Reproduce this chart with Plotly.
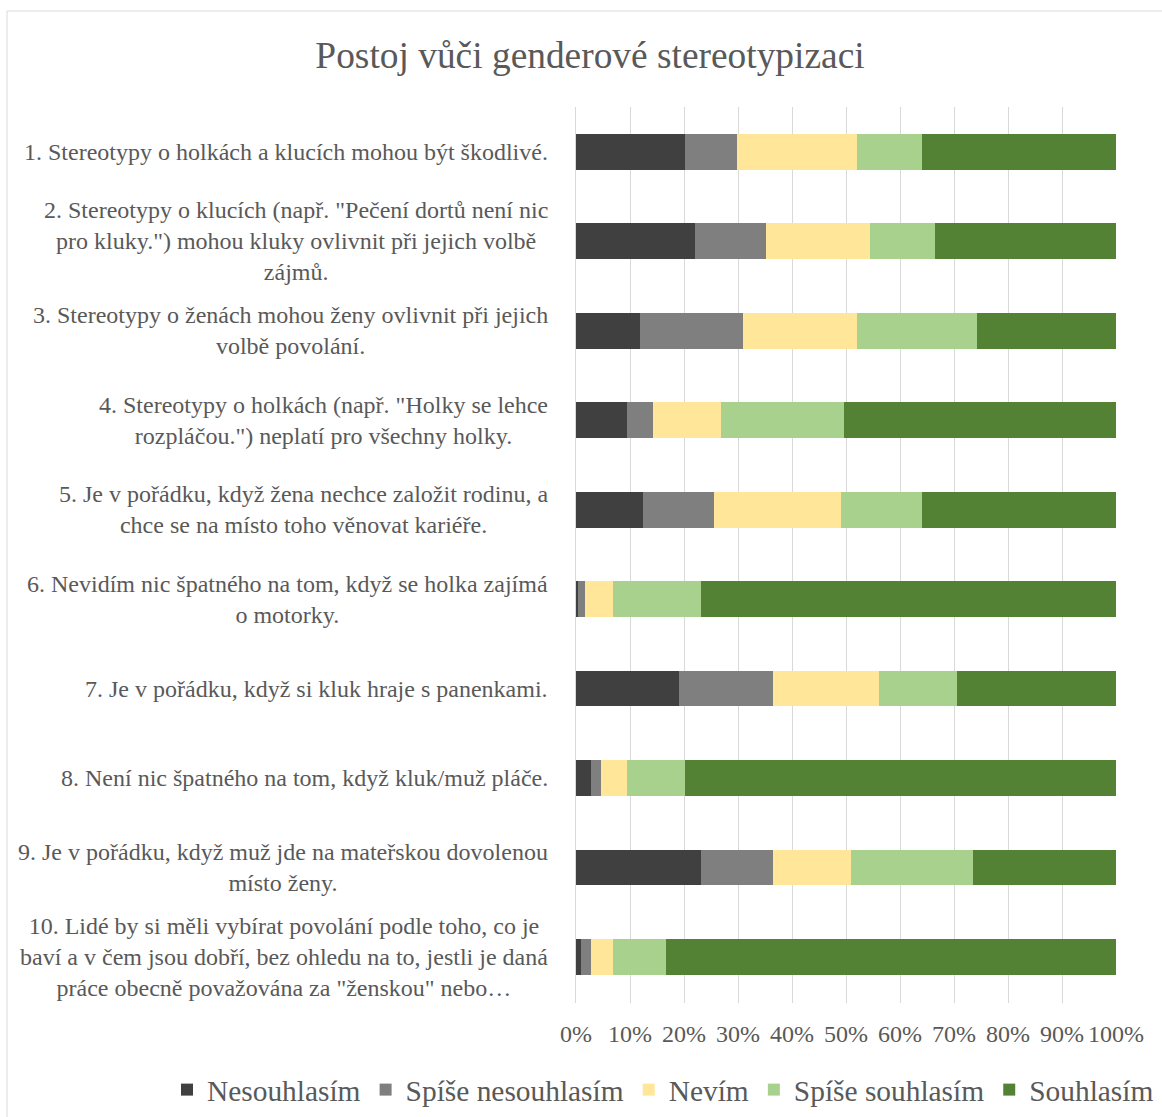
import plotly.graph_objects as go

categories = [
    "1. Stereotypy o holkách a klucích mohou být škodlivé.",
    "2. Stereotypy o klucích (např. \"Pečení dortů není nic<br>pro kluky.\") mohou kluky ovlivnit při jejich volbě<br>zájmů.",
    "3. Stereotypy o ženách mohou ženy ovlivnit při jejich<br>volbě povolání.",
    "4. Stereotypy o holkách (např. \"Holky se lehce<br>rozpláčou.\") neplatí pro všechny holky.",
    "5. Je v pořádku, když žena nechce založit rodinu, a<br>chce se na místo toho věnovat kariéře.",
    "6. Nevidím nic špatného na tom, když se holka zajímá<br>o motorky.",
    "7. Je v pořádku, když si kluk hraje s panenkami.",
    "8. Není nic špatného na tom, když kluk/muž pláče.",
    "9. Je v pořádku, když muž jde na mateřskou dovolenou<br>místo ženy.",
    "10. Lidé by si měli vybírat povolání podle toho, co je<br>baví a v čem jsou dobří, bez ohledu na to, jestli je daná<br>práce obecně považována za \"ženskou\" nebo…",
]

nesouhlasim = [20.1, 22.0, 11.8, 9.4, 12.4, 0.4, 19.0, 2.8, 23.1, 1.0]
spise_nesouhlasim = [9.7, 13.2, 19.2, 4.8, 13.2, 1.2, 17.4, 1.8, 13.3, 1.8]
nevim = [22.2, 19.2, 21.0, 12.6, 23.5, 5.3, 19.8, 4.8, 14.5, 4.1]
spise_souhlasim = [12.0, 12.0, 22.2, 22.8, 14.9, 16.3, 14.4, 10.8, 22.7, 9.7]
souhlasim = [36.0, 33.6, 25.8, 50.4, 36.0, 76.8, 29.4, 79.8, 26.4, 83.4]

series_names = ["Nesouhlasím", "Spíše nesouhlasím", "Nevím", "Spíše souhlasím", "Souhlasím"]
series_values = [nesouhlasim, spise_nesouhlasim, nevim, spise_souhlasim, souhlasim]
colors = ["#404040", "#7f7f7f", "#ffe699", "#a9d18e", "#548235"]

tick_vals = [0, 10, 20, 30, 40, 50, 60, 70, 80, 90, 100]
tick_text = ["0%", "10%", "20%", "30%", "40%", "50%", "60%", "70%", "80%", "90%", "100%"]

FONT = "Liberation Serif, Times New Roman, serif"
TXT = "#595959"

W, H = 1162, 1117
L, R, T, B = 576, 46, 107, 114
PW = W - L - R
PH = H - T - B

fig = go.Figure()
for name, vals, col in zip(series_names, series_values, colors):
    fig.add_trace(go.Bar(
        y=categories, x=vals, name=name, orientation="h",
        marker=dict(color=col, line=dict(width=0)),
        width=0.4,
    ))

annotations = []
for cat in categories:
    annotations.append(dict(
        x=0, xref="paper", y=cat, yref="y", text=cat,
        xanchor="right", yanchor="middle", align="center", xshift=-26,
        showarrow=False, font=dict(family=FONT, size=24, color=TXT),
    ))

fig.update_layout(
    width=W, height=H,
    margin=dict(l=L, r=R, t=T, b=B, autoexpand=False),
    paper_bgcolor="white", plot_bgcolor="white",
    barmode="stack",
    font=dict(family=FONT, color=TXT, size=24),
    title=dict(text="Postoj vůči genderové stereotypizaci", x=590 / W, xref="container",
               y=1 - 55 / H, yref="container", xanchor="center", yanchor="middle",
               font=dict(family=FONT, size=37.4, color=TXT)),
    xaxis=dict(range=[0, 100], tickvals=tick_vals, ticktext=tick_text,
               showgrid=True, gridcolor="#d9d9d9", gridwidth=1, zeroline=False,
               showline=False, ticks="", tickfont=dict(family=FONT, size=24, color=TXT),
               ticklabelstandoff=14, fixedrange=True, automargin=False),
    yaxis=dict(autorange="reversed", showticklabels=False, showline=True,
               linecolor="#d9d9d9", linewidth=1, ticks="", showgrid=False,
               fixedrange=True, automargin=False),
    legend=dict(orientation="h", xref="paper", yref="paper",
                x=(167 - L) / PW, y=(T + PH - 1116) / PH, xanchor="left", yanchor="bottom",
                font=dict(family=FONT, size=29.4, color=TXT), traceorder="normal"),
    annotations=annotations,
    shapes=[dict(type="rect", xref="paper", yref="paper",
                 x0=(7 - L) / PW, x1=(W + 20 - L) / PW,
                 y0=(T + PH - (H + 20)) / PH, y1=(T + PH - 11) / PH,
                 line=dict(color="#d9d9d9", width=1), layer="below")],
)

fig.write_html(
    "out.html", config={"displayModeBar": False},
    post_script=("document.body.style.margin='0';"
                 "document.body.style.overflow='hidden';"
                 "document.documentElement.style.overflow='hidden';"),
)
